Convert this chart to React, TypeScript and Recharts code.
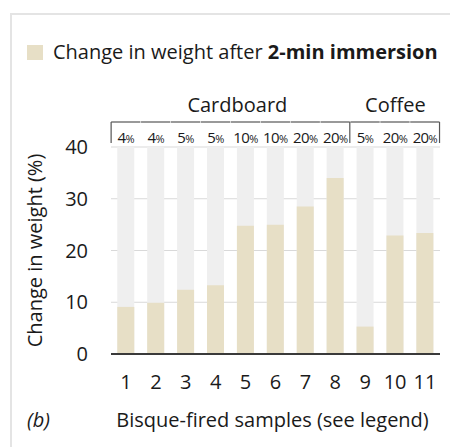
import React from 'react';
import { BarChart, Bar, XAxis, YAxis, CartesianGrid, Legend, LabelList } from 'recharts';

const samples = ['1', '2', '3', '4', '5', '6', '7', '8', '9', '10', '11'];
const weightChange = [9.1, 9.9, 12.4, 13.3, 24.8, 25.0, 28.5, 34.0, 5.3, 22.9, 23.4];
const additivePct = ['4', '4', '5', '5', '10', '10', '20', '20', '5', '20', '20'];
const groupNames = ['Cardboard', 'Coffee'];
const groupStart = [0, 8];
const groupEnd = [7, 10];
const yTicks = [0, 10, 20, 30, 40];
const yMax = 40;

const data = samples.map((s, i) => ({ sample: s, change: weightChange[i], pct: additivePct[i] }));

const FONT = '"Open Sans", Lato, sans-serif';
const BAR_FILL = '#e7dfc6';
const BG_FILL = '#efefef';
const GAP = 0.21;
const TEXT = '#1a1a1a';
const FS = 20;

function Annot(props: any) {
  const { x, y, width, height, index } = props;
  const value = weightChange[index];
  const cx = x + width / 2;
  const base = y + height;
  const top = base - (height * yMax) / value;
  const band = width / (1 - 2 * GAP);
  const half = band / 2;
  const bracketY = top - 25;
  const tickBottom = top - 4;
  const els: any[] = [];
  els.push(
    <text key="p" x={cx} y={top - 4} textAnchor="middle" fontSize={15} fill={TEXT} fontFamily={FONT} letterSpacing={-0.6}>
      {additivePct[index]}
      <tspan fontSize={11}>%</tspan>
    </text>
  );
  els.push(<line key="h" x1={cx - half} x2={cx + half} y1={bracketY} y2={bracketY} stroke="#555" strokeWidth={1.2} />);
  groupStart.forEach((gs, g) => {
    if (gs === index) {
      if (g === 0) {
        els.push(<line key={'s' + g} x1={cx - half} x2={cx - half} y1={bracketY} y2={tickBottom} stroke="#555" strokeWidth={1.2} />);
      }
      const mid = cx + ((groupEnd[g] - gs) / 2) * band;
      els.push(
        <text key={'g' + g} x={mid + (g === 0 ? 9 : 1)} y={bracketY - 10} textAnchor="middle" fontSize={FS} fill={TEXT} fontFamily={FONT}>
          {groupNames[g]}
        </text>
      );
    }
  });
  groupEnd.forEach((ge, g) => {
    if (ge === index) {
      els.push(<line key={'e' + g} x1={cx + half} x2={cx + half} y1={bracketY} y2={tickBottom} stroke="#555" strokeWidth={1.2} />);
    }
  });
  return <g>{els}</g>;
}

function XLabel(props: any) {
  const vb = props.viewBox || {};
  const cx = vb.x + vb.width / 2 - 3;
  return (
    <g>
      <text x={27} y={427} fontSize={FS} fontStyle="italic" fill={TEXT} fontFamily={FONT}>(b)</text>
      <text x={cx} y={427} textAnchor="middle" fontSize={FS} fill={TEXT} fontFamily={FONT}>
        Bisque-fired samples (see legend)
      </text>
    </g>
  );
}

function LegendContent() {
  return (
    <div style={{ display: 'flex', alignItems: 'center', fontFamily: FONT, fontSize: FS, color: TEXT, lineHeight: '24px', whiteSpace: 'nowrap' }}>
      <span style={{ display: 'inline-block', width: 16, height: 15, background: BAR_FILL, marginRight: 10 }} />
      <span>
        Change in weight after <b>2-min immersion</b>
      </span>
    </div>
  );
}

export default function App() {
  return (
    <div style={{ position: 'absolute', left: 0, top: 0, width: 450, height: 447, background: '#fff', fontFamily: FONT }}>
      <div
        style={{
          position: 'absolute',
          left: 10,
          top: 13,
          width: 440,
          height: 434,
          borderLeft: '2px solid #e4e4e4',
          borderTop: '2px solid #e4e4e4',
          boxSizing: 'border-box',
        }}
      />
      <BarChart
        width={450}
        height={447}
        data={data}
        margin={{ top: 147, right: 10, bottom: 0, left: 0 }}
        barCategoryGap="21%"
        style={{ position: 'absolute', left: 0, top: 0 }}
      >
        <CartesianGrid vertical={false} stroke="#d9d9d9" strokeWidth={1} />
        <XAxis
          dataKey="sample"
          height={93}
          interval={0}
          axisLine={{ stroke: '#3a3a3a', strokeWidth: 2 }}
          tickLine={false}
          tickSize={0}
          tickMargin={21}
          tick={{ fontSize: FS, fill: TEXT }}
          label={<XLabel />}
        />
        <YAxis
          width={111}
          domain={[0, yMax]}
          ticks={yTicks}
          axisLine={false}
          tickLine={false}
          tickSize={0}
          tickMargin={23}
          tick={{ fontSize: FS, fill: TEXT }}
          label={{
            value: 'Change in weight (%)',
            angle: -90,
            position: 'insideLeft',
            offset: 35,
            style: { textAnchor: 'middle', fontSize: FS, fill: TEXT },
          }}
        />
        <Legend
          layout="horizontal"
          verticalAlign="middle"
          align="center"
          content={<LegendContent />}
          wrapperStyle={{ top: 40, left: 27, width: 423 }}
        />
        <Bar dataKey="change" fill={BAR_FILL} background={{ fill: BG_FILL }} isAnimationActive={false}>
          <LabelList dataKey="change" content={<Annot />} />
        </Bar>
      </BarChart>
    </div>
  );
}
